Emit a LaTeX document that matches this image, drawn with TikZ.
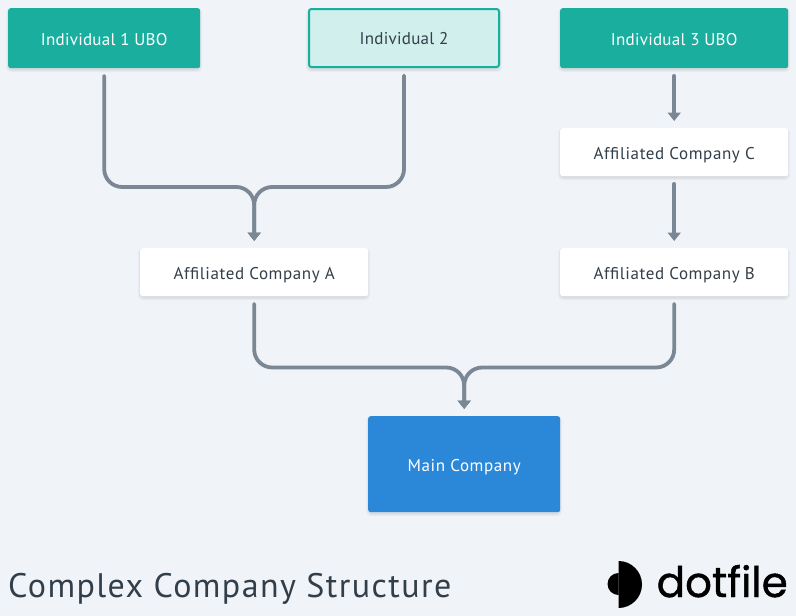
\documentclass[tikz,border=0pt]{standalone}
\usepackage{fontspec}
\setmainfont{PT Sans}[LetterSpace=1.5]
\newfontfamily\widefont{PT Sans}[LetterSpace=3.5]
\newfontfamily\titlefont{PT Sans}[LetterSpace=4.2]
\newfontfamily\logofont{Poppins}[FakeBold=1]
\usetikzlibrary{arrows.meta}
\definecolor{bg}{HTML}{F0F4F8}
\definecolor{teal}{HTML}{1AAE9F}
\definecolor{lteal}{HTML}{D1EFEC}
\definecolor{mblue}{HTML}{2B88D8}
\definecolor{ink}{HTML}{323F4B}
\definecolor{wire}{HTML}{7B8794}
\tikzset{
  x=1pt,y=-1pt,
  box/.style={rectangle,rounded corners=2.5pt,inner sep=0pt,font=\fontsize{17}{20}\selectfont,text=ink,anchor=north west,text height=13.6pt,text depth=0pt},
  fillteal/.style={box,fill=teal,text=white,minimum height=60pt},
  outlined/.style={box,fill=lteal,draw=teal,line width=2pt,minimum width=190pt,minimum height=58pt},
  whitebox/.style={box,fill=white,minimum width=228pt,minimum height=48pt,font=\widefont\fontsize{17}{20}\selectfont},
  mainbox/.style={box,fill=mblue,text=white,minimum width=192pt,minimum height=96pt,font=\widefont\fontsize{17}{20}\selectfont},
  wireline/.style={draw=wire,line width=3.8pt,line cap=round,rounded corners=18pt},
  arrowed/.style={wireline,-{Triangle[length=8.5pt,width=13pt]}},
  soft/.style={fill=black,opacity=0.03,rounded corners=4pt},
}
\newcommand{\softshadow}[4]{%
  \fill[soft] (#1-2,#2) rectangle (#3+2,#4+4);
  \fill[soft] (#1-1,#2+1) rectangle (#3+1,#4+3);
  \fill[soft] (#1,#2+1) rectangle (#3,#4+2);
}
\begin{document}
\begin{tikzpicture}
\useasboundingbox (0,0) rectangle (796,616);
\fill[bg] (0,0) rectangle (796,616);
\softshadow{8}{8}{200}{68}
\softshadow{560}{8}{788}{68}
\softshadow{308}{8}{500}{68}
\softshadow{560}{128}{788}{176}
\softshadow{560}{248}{788}{296}
\softshadow{140}{248}{368}{296}
\softshadow{368}{416}{560}{512}
\node[fillteal,minimum width=192pt] (i1) at (8,8) {Individual 1 UBO};
\node[outlined] (i2) at (308,8) {Individual 2};
\node[fillteal,minimum width=228pt] (i3) at (560,8) {Individual 3 UBO};
\node[whitebox] (c) at (560,128) {Affiliated Company C};
\node[whitebox] (b) at (560,248) {Affiliated Company B};
\node[whitebox] (a) at (140,248) {Affiliated Company A};
\node[mainbox] (m) at (368,416) {Main Company};
\coordinate (ja) at (254,187);
\coordinate (jm) at (464,367.5);
\draw[arrowed] ([yshift=-7.5pt]i1.south) -- (i1.south |- ja) -- (a.north |- ja) -- ([yshift=7pt]a.north);
\draw[arrowed] ([yshift=-7.5pt]i2.south) -- (i2.south |- ja) -- (a.north |- ja) -- ([yshift=7pt]a.north);
\draw[arrowed] ([yshift=-7.5pt]i3.south) -- ([yshift=7pt]c.north);
\draw[arrowed] ([yshift=-7.5pt]c.south) -- ([yshift=7pt]b.north);
\draw[arrowed] ([yshift=-7.5pt]a.south) -- (a.south |- jm) -- (m.north |- jm) -- ([yshift=7pt]m.north);
\draw[arrowed] ([yshift=-7.5pt]b.south) -- (b.south |- jm) -- (m.north |- jm) -- ([yshift=7pt]m.north);
\node[anchor=base west,inner sep=0pt,text=ink,font=\titlefont\fontsize{34}{37}\selectfont] (title) at (8,597) {Complex Company Structure};
\fill[black] (618.5,561) arc[start angle=90,end angle=-90,radius=23.5pt] -- cycle;
\fill[black] (618.5,573) arc[start angle=90,end angle=270,radius=11pt] -- cycle;
\node[anchor=base west,inner sep=0pt,text=black,font=\logofont\fontsize{42}{46}\selectfont] (logo) at (656.5,597) {dotfile};
\end{tikzpicture}
\end{document}
